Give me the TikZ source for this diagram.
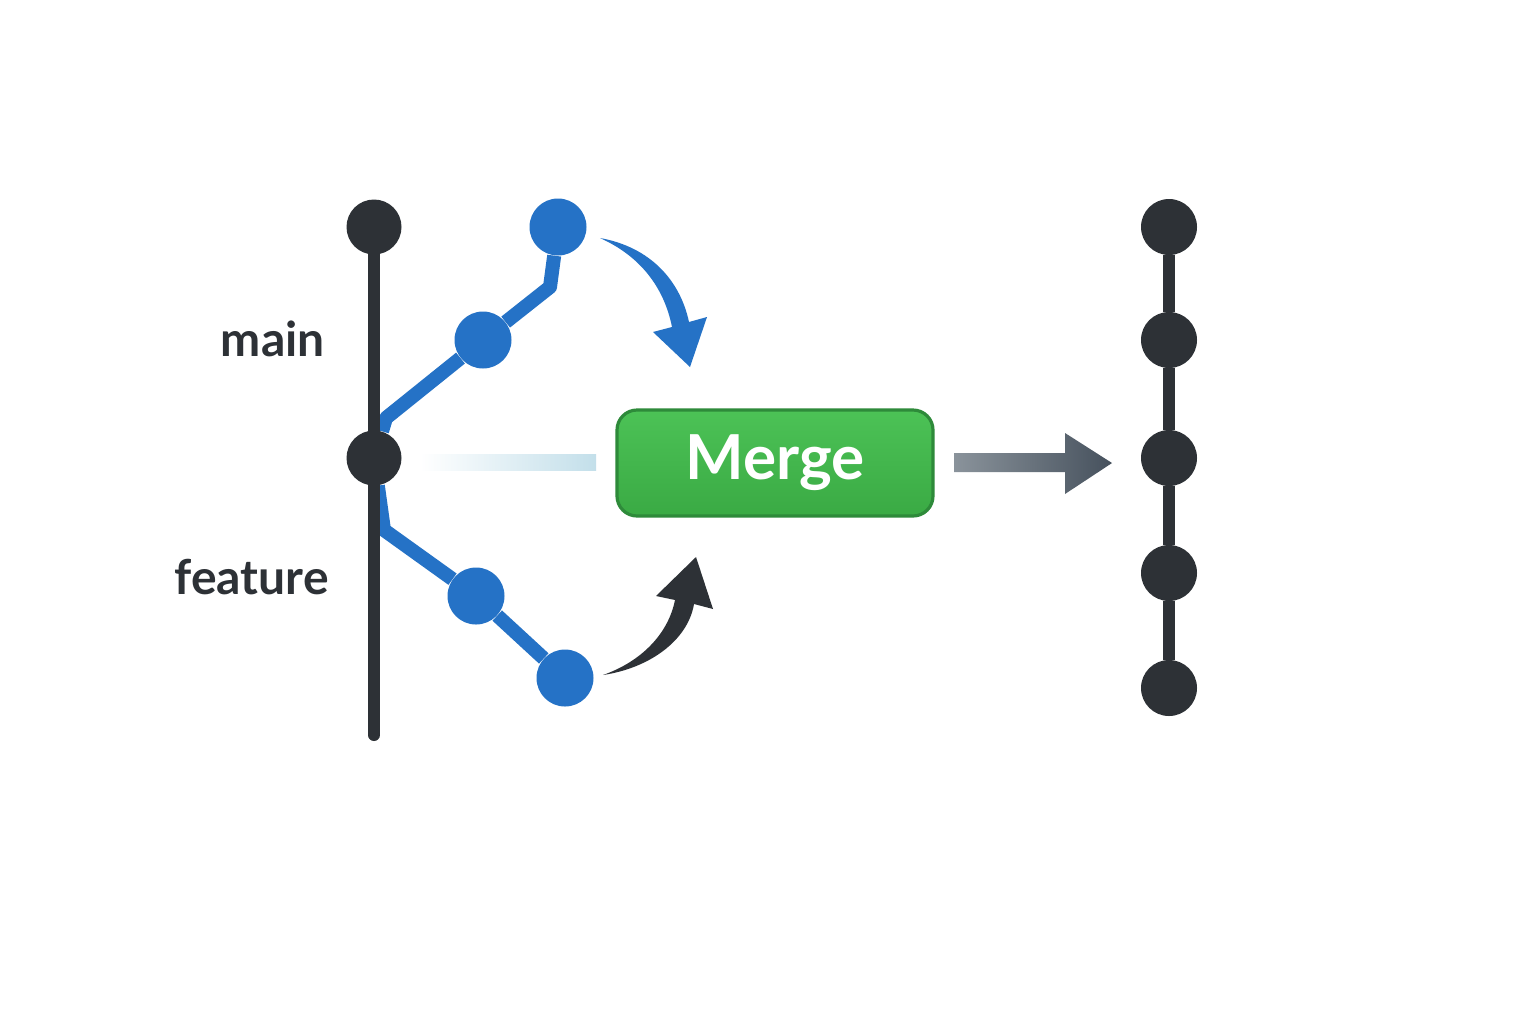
\documentclass[tikz,border=0pt]{standalone}
\usepackage{fontspec}
\setmainfont{Lato}
\usetikzlibrary{calc}
\pgfdeclarelayer{background}
\pgfdeclarelayer{canvas}
\pgfsetlayers{canvas,background,main}
\definecolor{ink}{HTML}{2D3136}
\definecolor{bblue}{HTML}{2572C6}
\definecolor{gtop}{HTML}{4CC256}
\definecolor{gbot}{HTML}{3AAA44}
\definecolor{gborder}{HTML}{2E8A3A}
\definecolor{fadeblue}{HTML}{C3DFEA}
\definecolor{greyl}{HTML}{8A939B}
\definecolor{greyr}{HTML}{46515D}
\tikzset{
  commit/.style={circle,fill=ink,inner sep=0pt,minimum size=27.5pt},
  bcommit/.style={circle,fill=bblue,inner sep=0pt,minimum size=28.5pt},
  trunk/.style={draw=ink,line width=6pt,line cap=round},
  branch/.style={draw=bblue,line width=7pt,line join=round},
  label/.style={text=ink,font=\bfseries\fontsize{24}{27}\selectfont,inner sep=0pt},
  mergebox/.style={draw=gborder,line width=1.6pt,rounded corners=10pt,top color=gtop,bottom color=gbot,minimum width=158pt,minimum height=53pt,text=white,font=\bfseries\fontsize{31}{34}\selectfont}
}
\begin{document}
\begin{tikzpicture}[x=0.5pt,y=-0.5pt]
\useasboundingbox (0,0) rectangle (1536,1024);
\begin{pgfonlayer}{canvas}
\fill[white] (0,0) rectangle (1536,1024);
\end{pgfonlayer}
% left: main line
\node[commit] (m1) at (374,227) {};
\node[commit] (m2) at (374,458) {};
\coordinate (mend) at (374,735);
% branches
\coordinate (bu) at (386,418);
\node[bcommit] (u1) at (483,340) {};
\coordinate (bk) at (550,287);
\node[bcommit] (u2) at (558,227) {};
\coordinate (bl) at (384,530);
\node[bcommit] (l1) at (476,596) {};
\node[bcommit] (l2) at (565,678) {};
\begin{pgfonlayer}{background}
\draw[branch] (m2) -- (bu) -- (u1) -- (bk) -- (u2);
\draw[branch] (m2) -- (bl) -- (l1) -- (l2);
\draw[trunk] (m1) -- (m2) -- (mend);
\end{pgfonlayer}
% labels
\node[label,anchor=base east] (lmain) at (325,356) {main};
\node[label,anchor=base east] (lfeat) at (329,594) {feature};
% fade line
\shade[left color=white,right color=fadeblue] (420,454) rectangle (596,470);
% merge box
\node[mergebox] (merge) at (775,463) {Merge};
% curved arrows
\fill[bblue] (600,238) .. controls (650,247) and (680,280) .. (689,322)
  -- (707,317) -- (690,367) -- (653,332) -- (672,327)
  .. controls (664,287) and (640,256) .. (600,238) -- cycle;
\fill[ink] (603,675) .. controls (650,668) and (688,640) .. (694,604)
  -- (713,609) -- (696,557) -- (656,596) -- (675,600)
  .. controls (668,635) and (640,662) .. (603,675) -- cycle;
% grey arrow
\shade[left color=greyl,right color=greyr] (954,453) -- (1065,453) -- (1065,433) -- (1112,463) -- (1065,494) -- (1065,472) -- (954,472) -- cycle;
% right: merged line
\node[commit,minimum size=28pt] (r1) at (1169,227) {};
\node[commit,minimum size=28pt] (r2) at (1169,340) {};
\node[commit,minimum size=28pt] (r3) at (1169,458) {};
\node[commit,minimum size=28pt] (r4) at (1169,573) {};
\node[commit,minimum size=28pt] (r5) at (1169,688) {};
\begin{pgfonlayer}{background}
\draw[trunk,line cap=butt] (r1) -- (r2) -- (r3) -- (r4) -- (r5);
\end{pgfonlayer}
\end{tikzpicture}
\end{document}
